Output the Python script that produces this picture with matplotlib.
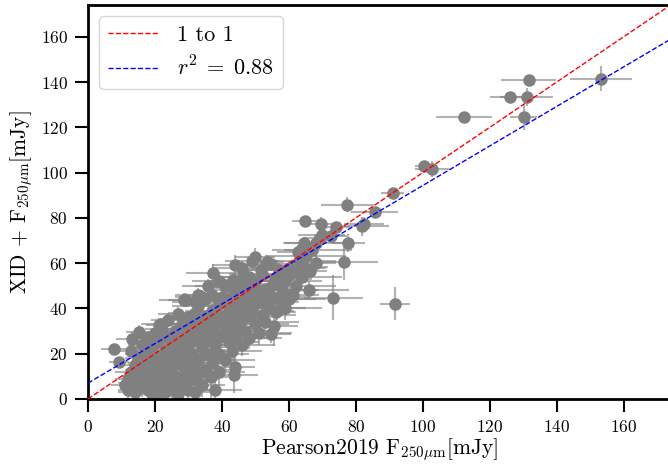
import matplotlib
matplotlib.use('Agg')
import matplotlib.pyplot as plt
import numpy as np

# Computer Modern look, like the LaTeX rendering of the original
plt.rcParams['font.family'] = 'serif'
plt.rcParams['font.serif'] = ['cmr10', 'DejaVu Serif']
plt.rcParams['mathtext.fontset'] = 'cm'
plt.rcParams['axes.formatter.use_mathtext'] = True

# Pearson2019 flux, XID+ flux and their errors (mJy)
pearson_flux = [153.2, 131.6, 126.0, 131.0, 130.2, 112.4, 100.3, 102.8, 91.0, 77.5,
                85.7, 81.8, 82.5, 74.2, 69.5, 69.8, 69.4, 64.9, 72.5, 77.8,
                68.0, 64.4, 76.6, 68.1, 64.6, 66.4, 73.3, 91.7, 62.6, 63.6,
                60.1, 62.4, 61.1, 54.6, 55.6, 56.6, 37.2, 44.0, 49.0, 50.0,
                53.6, 54.6, 51.6, 46.2, 55.6, 43.2, 42.7, 49.6, 52.6, 56.1,
                43.7, 43.9, 33.2, 29.8, 36.7, 7.9, 13.3, 15.3, 12.8, 9.4,
                29.3, 32.2, 21.8, 23.8, 26.8, 28.8, 21.3,
                11, 12, 12, 13, 13, 14, 14, 15, 15, 16, 16, 17, 17, 18, 18, 19, 19,
                20, 20, 20, 21, 21, 21, 22, 22, 23, 23, 23, 24, 24, 25, 25, 25,
                26, 26, 26, 27, 27, 28, 28, 28, 29, 29, 29, 30, 30, 30, 31, 31, 31,
                32, 32, 32, 33, 33, 33, 34, 34, 34, 35, 35, 35, 36, 36, 36, 37, 37,
                37, 38, 38, 38, 39, 39, 39, 40, 40, 40, 41, 41, 41, 42, 42, 42, 43,
                43, 43, 44, 44, 44, 45, 45, 45, 46, 46, 46, 47, 47, 47, 48, 48, 48,
                49, 49, 50, 50, 50, 51, 51, 52, 52, 53, 53, 54, 54, 55, 56, 57, 57,
                58, 59, 60, 60, 62, 63, 64, 65, 66, 67, 59, 19, 23, 27, 32, 38,
                16, 18, 20, 22, 24, 34, 36, 39, 33, 46]
xid_flux = [141.5, 141.0, 133.5, 133.5, 124.4, 124.4, 103.0, 101.5, 90.9, 85.9,
            82.8, 76.2, 77.4, 75.9, 77.5, 72.5, 71.0, 78.5, 71.9, 68.9,
            68.9, 68.9, 60.5, 60.0, 58.3, 56.5, 44.8, 42.1, 64.9, 65.6,
            54.6, 56.1, 45.8, 28.9, 32.2, 38.9, 55.8, 59.0, 61.0, 62.5,
            60.5, 59.8, 56.8, 53.9, 51.0, 52.4, 49.5, 49.5, 48.0, 38.5,
            10.6, 14.2, 11.3, 8.4, 9.6, 22.0, 26.4, 29.6, 21.3, 16.2,
            43.6, 42.9, 33.3, 34.8, 37.7, 43.6, 32.6,
            6, 9, 4, 12, 7, 15, 3, 10, 18, 6, 13, 20, 9, 4, 16, 11, 23,
            7, 14, 19, 3, 10, 25, 16, 6, 21, 12, 28, 8, 17, 24, 4, 14,
            30, 19, 10, 26, 6, 15, 22, 33, 11, 28, 18, 36, 24, 4, 14, 31, 20,
            38, 26, 9, 17, 33, 41, 23, 29, 6, 36, 13, 44, 27, 20, 32, 39, 16,
            46, 24, 34, 29, 42, 12, 20, 36, 28, 45, 32, 17, 50, 25, 39, 44, 30,
            35, 21, 41, 48, 27, 37, 33, 52, 24, 44, 40, 30, 49, 36, 42, 54, 27,
            38, 46, 33, 52, 42, 29, 47, 37, 55, 43, 34, 49, 40, 45, 53, 44, 57,
            48, 52, 58, 44, 50, 61, 54, 63, 48, 66, 40, 2, 3, 2, 3, 4,
            24, 27, 29, 31, 27, 45, 50, 52, 46, 58]
pearson_err = [9.3, 8.3, 6.0, 8.0, 4.0, 8.3, 2.5, 5.0, 3.5, 8.0,
               7.0, 8.0, 6.0, 4.0, 6.0, 7.0, 5.0, 4.0, 5.0, 5.0,
               9.0, 6.0, 10.0, 6.0, 7.0, 5.0, 8.9, 4.5, 6.0, 5.0,
               7.0, 5.0, 8.0, 6.0, 7.0, 5.0, 8.0, 7.0, 8.0, 6.0,
               5.0, 7.0, 8.0, 6.0, 7.0, 6.0, 7.0, 6.0, 8.0, 6.0,
               7.0, 6.0, 7.0, 6.0, 5.0, 4.0, 5.0, 4.0, 5.0, 3.0,
               8.0, 7.0, 6.0, 5.0, 6.0, 5.0, 4.0,
               4, 4, 3, 5, 4, 4, 5, 5, 4, 5, 5, 6, 5, 5, 6, 5, 5,
               6, 6, 5, 5, 6, 6, 6, 6, 7, 6, 6, 7, 6, 7, 6, 7,
               6, 7, 7, 7, 6, 7, 7, 7, 7, 8, 7, 7, 8, 7, 8, 8, 7,
               8, 8, 7, 8, 8, 8, 8, 8, 7, 8, 8, 8, 8, 8, 9, 8, 8,
               9, 9, 8, 9, 9, 8, 9, 9, 9, 9, 9, 9, 9, 9, 9, 9, 9,
               9, 9, 9, 9, 10, 9, 10, 9, 10, 9, 10, 10, 10, 10, 10, 10, 10,
               10, 10, 10, 10, 10, 10, 10, 10, 10, 10, 10, 10, 11, 11, 11, 11, 11,
               11, 11, 11, 11, 12, 11, 12, 12, 12, 12, 11, 5, 6, 6, 7, 8,
               4, 5, 5, 5, 6, 8, 8, 8, 7, 9]
xid_err = [5.4, 2.0, 2.0, 4.0, 5.5, 2.5, 1.5, 3.5, 1.2, 3.5,
           1.5, 4.0, 3.0, 2.5, 3.0, 3.0, 4.0, 2.5, 3.0, 4.0,
           3.0, 2.5, 8.0, 3.0, 3.5, 3.0, 10.0, 7.3, 3.0, 4.0,
           3.5, 3.0, 3.5, 4.0, 9.0, 4.0, 4.0, 4.5, 3.5, 4.0,
           3.0, 3.0, 4.0, 3.5, 4.0, 3.0, 3.0, 3.5, 3.0, 4.0,
           8.0, 5.0, 5.0, 6.0, 9.0, 2.0, 3.0, 3.0, 2.5, 2.5,
           3.0, 3.0, 2.5, 3.0, 3.0, 3.0, 3.0,
           3, 4, 4, 3, 5, 3, 3, 4, 3, 5, 3, 3, 4, 4, 3, 4, 3,
           5, 3, 3, 4, 4, 3, 3, 5, 3, 4, 3, 6, 3, 3, 4, 4,
           3, 3, 5, 3, 6, 4, 3, 3, 5, 3, 4, 3, 3, 4, 5, 3, 4,
           3, 3, 6, 4, 3, 3, 4, 3, 5, 3, 5, 3, 4, 4, 3, 3, 5,
           3, 4, 3, 3, 3, 6, 4, 3, 4, 3, 3, 5, 3, 4, 3, 3, 4,
           3, 5, 3, 3, 4, 3, 4, 3, 5, 3, 3, 4, 3, 4, 3, 3, 5,
           4, 3, 4, 3, 3, 5, 3, 4, 3, 3, 4, 3, 4, 3, 3, 4, 3,
           3, 3, 3, 4, 3, 3, 3, 3, 4, 3, 5, 3, 4, 3, 4, 5,
           3, 3, 3, 3, 3, 3, 3, 3, 3, 3]

# linear fit shown in the legend
fit_slope = 0.873
fit_intercept = 7.0
fit_r2 = 0.88

lim = 174

fig = plt.figure(figsize=(6.68, 4.65), dpi=100)
ax = fig.add_axes([0.1317, 0.142, 0.872, 0.847])

ax.errorbar(pearson_flux, xid_flux, xerr=pearson_err, yerr=xid_err,
            fmt='none', ecolor='gray', elinewidth=1.5, alpha=0.6, zorder=1)
ax.plot(pearson_flux, xid_flux, 'o', color='gray', markersize=8, zorder=2)

xx = np.array([0, lim])
ax.plot(xx, xx, 'r--', lw=1.0, label='1 to 1', zorder=3)
ax.plot(xx, fit_slope * xx + fit_intercept, 'b--', lw=1.0,
        label=r'$r^2 \;=\; %.2f$' % fit_r2, zorder=3)

ax.set_xlim(0, lim)
ax.set_ylim(0, lim)
ax.set_xticks(np.arange(0, 161, 20))
ax.set_yticks(np.arange(0, 161, 20))
ax.tick_params(direction='out', length=9.5, width=1.5, labelsize=12.5, pad=5)
for s in ax.spines.values():
    s.set_linewidth(2)
ax.spines['right'].set_visible(False)

ax.set_xlabel(r'Pearson2019 F$_{250\mu \mathrm{m}}$[mJy]', fontsize=15.5, labelpad=1)
ax.set_ylabel(r'XID + F$_{250\mu \mathrm{m}}$[mJy]', fontsize=15.5, labelpad=4)

ax.legend(loc='upper left', fontsize=16, handlelength=2.3, fancybox=True)

fig.savefig('out.png', dpi=100)
